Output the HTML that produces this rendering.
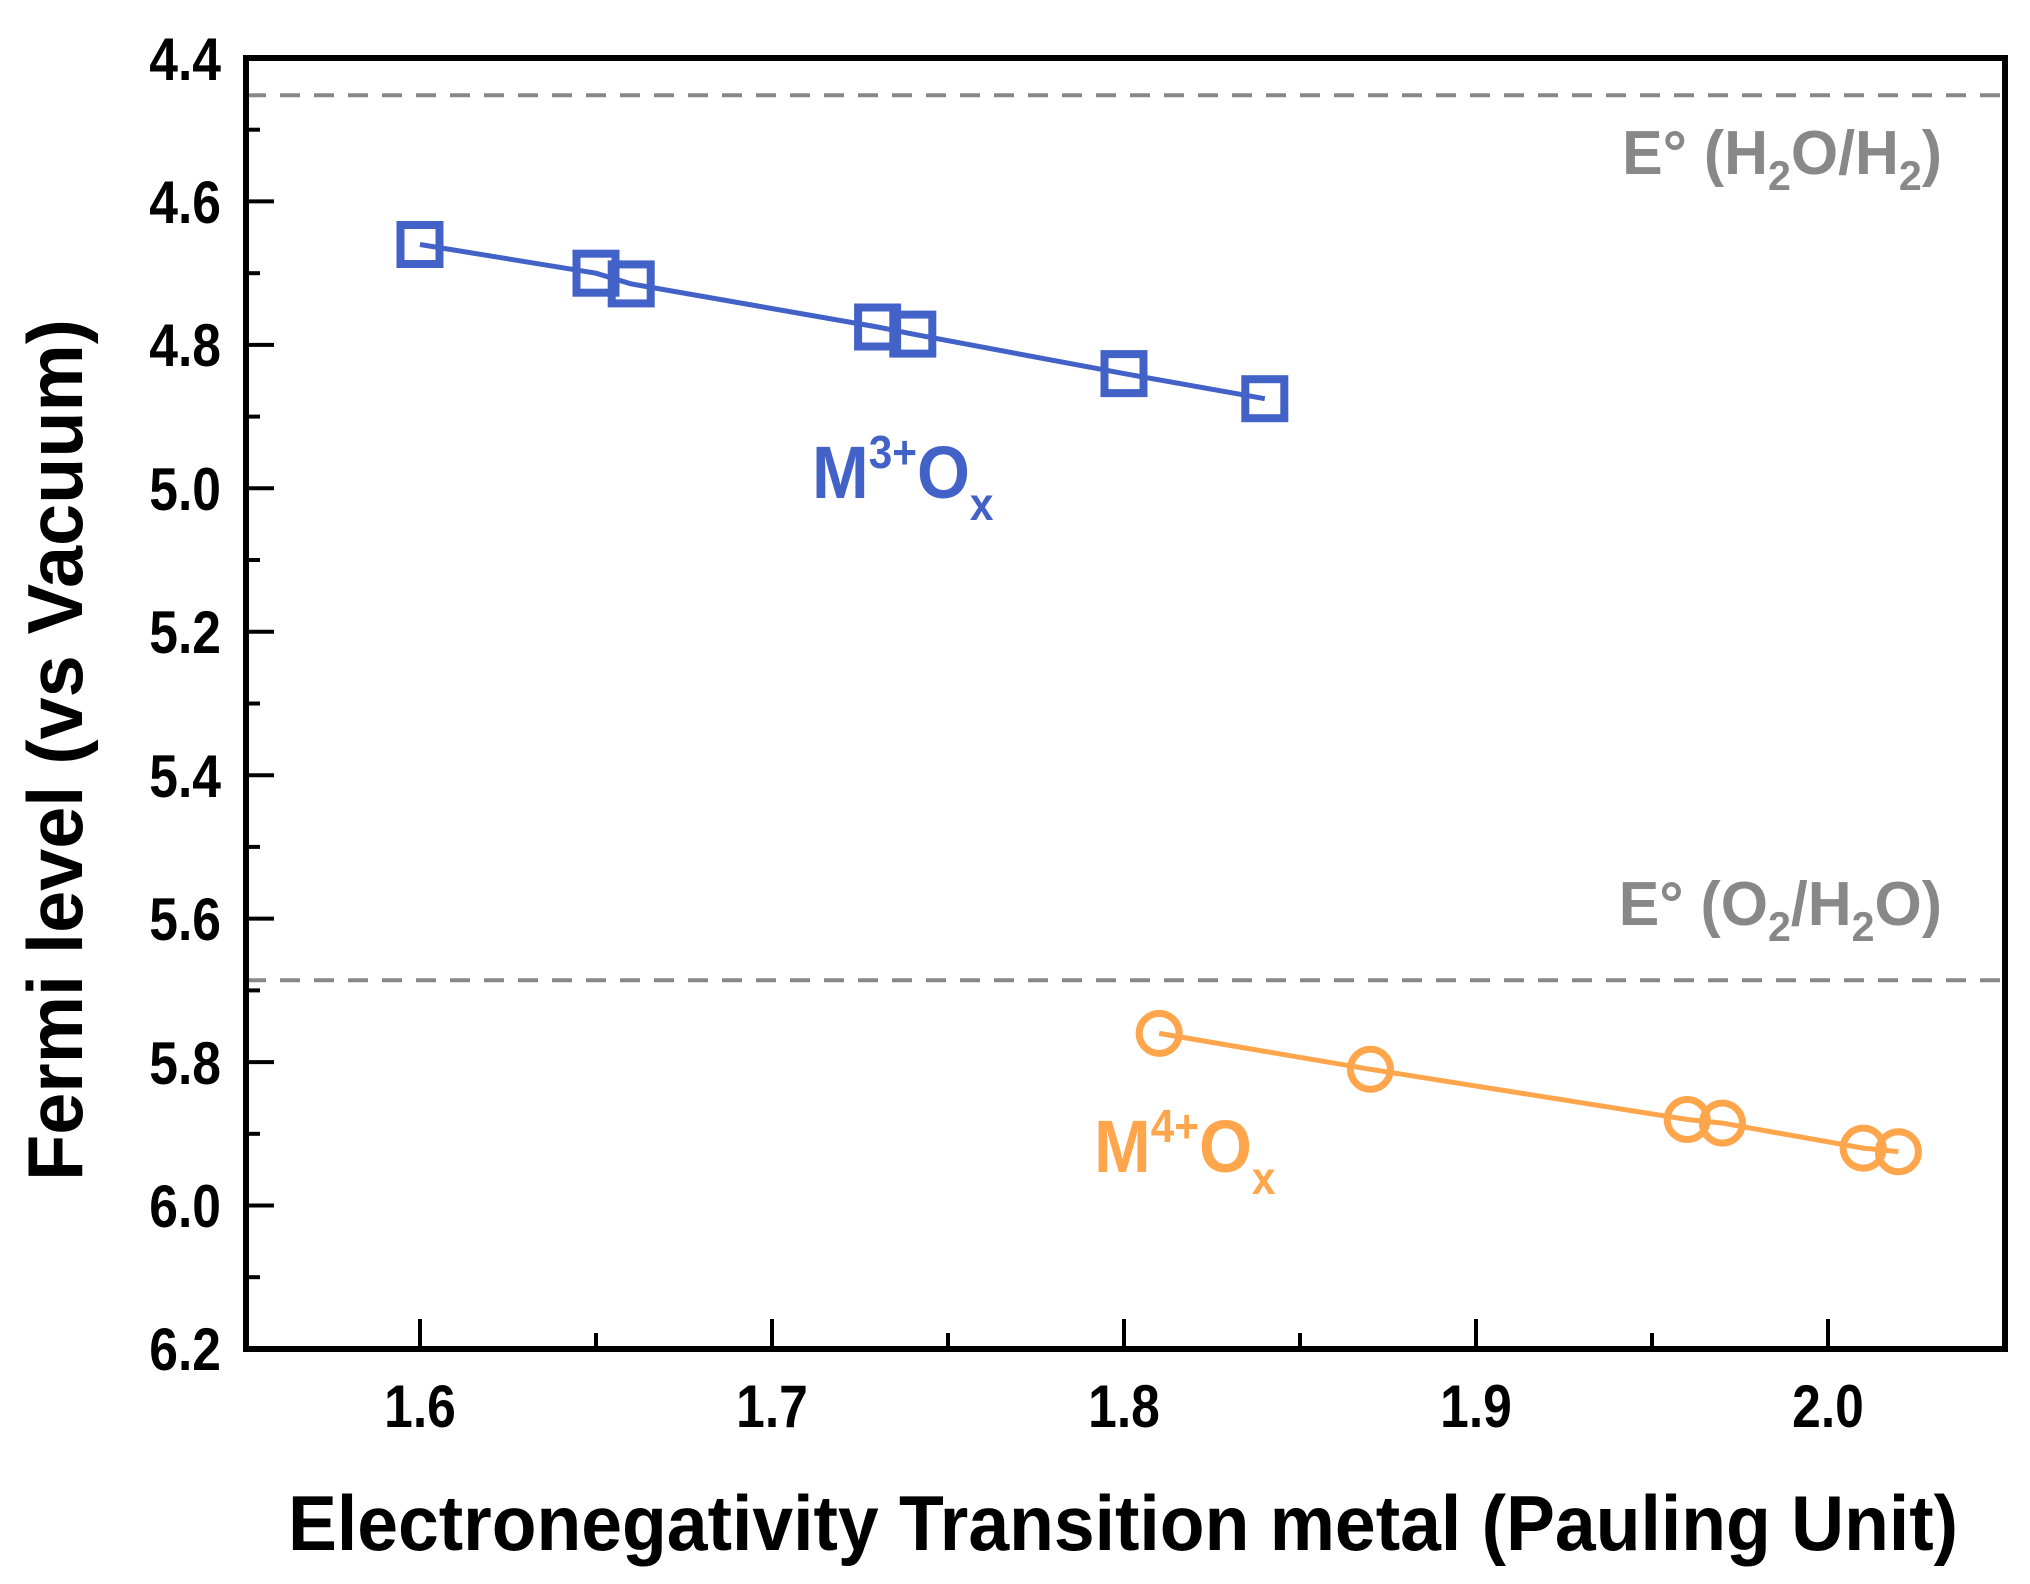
<!DOCTYPE html>
<html><head><meta charset="utf-8"><style>html,body{margin:0;padding:0;background:#fff}svg{display:block}</style></head>
<body>
<svg width="2030" height="1584" viewBox="0 0 2030 1584" xmlns="http://www.w3.org/2000/svg" font-family="'Liberation Sans', sans-serif" font-weight="bold">
<rect width="2030" height="1584" fill="#fff"/>
<line x1="246" y1="95.3" x2="2005" y2="95.3" stroke="#888" stroke-width="4" stroke-dasharray="20,14"/>
<line x1="246" y1="980.3" x2="2005" y2="980.3" stroke="#888" stroke-width="4" stroke-dasharray="20,14"/>
<g stroke="#000" stroke-width="4">
<line x1="420" y1="1349" x2="420" y2="1319"/><line x1="772" y1="1349" x2="772" y2="1319"/><line x1="1124" y1="1349" x2="1124" y2="1319"/><line x1="1476" y1="1349" x2="1476" y2="1319"/><line x1="1828" y1="1349" x2="1828" y2="1319"/>
<line x1="596" y1="1349" x2="596" y2="1333"/><line x1="948" y1="1349" x2="948" y2="1333"/><line x1="1300" y1="1349" x2="1300" y2="1333"/><line x1="1652" y1="1349" x2="1652" y2="1333"/>
<line x1="246" y1="201.4" x2="274" y2="201.4"/><line x1="246" y1="344.9" x2="274" y2="344.9"/><line x1="246" y1="488.3" x2="274" y2="488.3"/><line x1="246" y1="631.8" x2="274" y2="631.8"/><line x1="246" y1="775.2" x2="274" y2="775.2"/><line x1="246" y1="918.6" x2="274" y2="918.6"/><line x1="246" y1="1062.1" x2="274" y2="1062.1"/><line x1="246" y1="1205.5" x2="274" y2="1205.5"/>
<line x1="246" y1="129.7" x2="260" y2="129.7"/><line x1="246" y1="273.2" x2="260" y2="273.2"/><line x1="246" y1="416.6" x2="260" y2="416.6"/><line x1="246" y1="560" x2="260" y2="560"/><line x1="246" y1="703.5" x2="260" y2="703.5"/><line x1="246" y1="846.9" x2="260" y2="846.9"/><line x1="246" y1="990.4" x2="260" y2="990.4"/><line x1="246" y1="1133.8" x2="260" y2="1133.8"/><line x1="246" y1="1277.2" x2="260" y2="1277.2"/>
</g>
<rect x="246" y="58" width="1759" height="1291" fill="none" stroke="#000" stroke-width="6"/>
<g font-size="60" text-anchor="end">
<g transform="translate(221,0) scale(0.86,1)">
<text x="0" y="80">4.4</text><text x="0" y="223">4.6</text><text x="0" y="366">4.8</text><text x="0" y="510">5.0</text><text x="0" y="653">5.2</text><text x="0" y="797">5.4</text><text x="0" y="940">5.6</text><text x="0" y="1084">5.8</text><text x="0" y="1227">6.0</text><text x="0" y="1370">6.2</text>
</g></g>
<g font-size="60" text-anchor="middle">
<text transform="translate(420,1427) scale(0.86,1)">1.6</text>
<text transform="translate(772,1427) scale(0.86,1)">1.7</text>
<text transform="translate(1124,1427) scale(0.86,1)">1.8</text>
<text transform="translate(1476,1427) scale(0.86,1)">1.9</text>
<text transform="translate(1828,1427) scale(0.86,1)">2.0</text>
</g>
<text transform="translate(1123,1550) scale(0.94,1)" font-size="78" text-anchor="middle">Electronegativity Transition metal (Pauling Unit)</text>
<text transform="translate(82,750) rotate(-90) scale(0.97,1)" font-size="78" text-anchor="middle">Fermi level (vs Vacuum)</text>
<g fill="#888" font-size="62" text-anchor="end">
<text transform="translate(1942,174) scale(0.98,1)">E° (H<tspan font-size="42" dy="16">2</tspan><tspan dy="-16">O/H</tspan><tspan font-size="42" dy="16">2</tspan><tspan dy="-16">)</tspan></text>
<text transform="translate(1942,925) scale(0.98,1)">E° (O<tspan font-size="42" dy="16">2</tspan><tspan dy="-16">/H</tspan><tspan font-size="42" dy="16">2</tspan><tspan dy="-16">O)</tspan></text>
</g>
<text transform="translate(812,498) scale(0.92,1)" fill="#4262c8" font-size="74">M<tspan font-size="46" dy="-30">3+</tspan><tspan dy="30">O</tspan><tspan font-size="46" dy="22">x</tspan></text>
<text transform="translate(1094,1172) scale(0.92,1)" fill="#ffa64d" font-size="74">M<tspan font-size="46" dy="-30">4+</tspan><tspan dy="30">O</tspan><tspan font-size="46" dy="22">x</tspan></text>
<polyline fill="none" stroke="#4262c8" stroke-width="5" points="420,244.5 596,273.2 631.2,283.9 877.6,327 912.8,334.1 1124,373.6 1264.8,398.7"/>
<g fill="none" stroke="#4262c8" stroke-width="8">
<rect x="400.5" y="225" width="39" height="39"/><rect x="576.5" y="253.7" width="39" height="39"/><rect x="611.7" y="264.4" width="39" height="39"/><rect x="858.1" y="307.5" width="39" height="39"/><rect x="893.3" y="314.6" width="39" height="39"/><rect x="1104.5" y="354.1" width="39" height="39"/><rect x="1245.3" y="379.2" width="39" height="39"/>
</g>
<polyline fill="none" stroke="#ffa64d" stroke-width="5" points="1159.2,1033.4 1370.4,1069.3 1687.2,1119.5 1722.4,1123.1 1863.2,1148.1 1898.4,1151.7"/>
<g fill="none" stroke="#ffa64d" stroke-width="7">
<circle cx="1159.2" cy="1033.4" r="20"/><circle cx="1370.4" cy="1069.3" r="20"/><circle cx="1687.2" cy="1119.5" r="20"/><circle cx="1722.4" cy="1123.1" r="20"/><circle cx="1863.2" cy="1148.1" r="20"/><circle cx="1898.4" cy="1151.7" r="20"/>
</g>
</svg>
</body></html>
